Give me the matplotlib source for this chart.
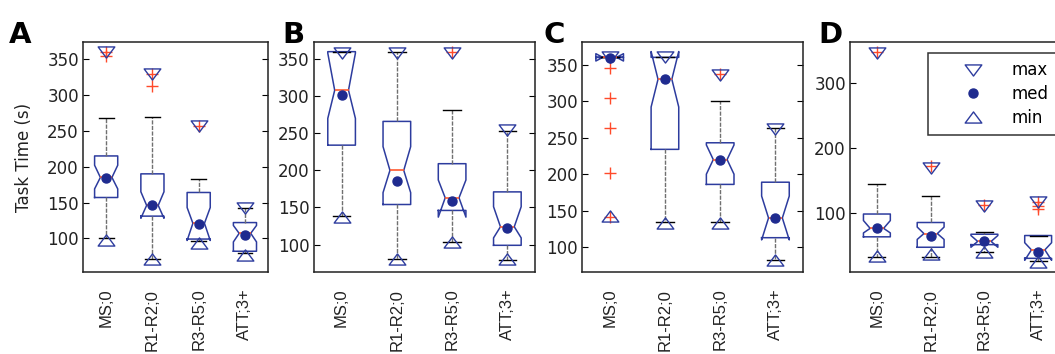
import matplotlib
matplotlib.use("Agg")
import matplotlib.pyplot as plt
from matplotlib.path import Path
from matplotlib.lines import Line2D

plt.rcParams['font.family'] = ['DejaVu Sans']

labels = ['MS;0', 'R1-R2;0', 'R3-R5;0', 'ATT;3+']
pos = [1, 2, 3, 4]

# panel A
a_q1 = [157, 131, 99, 82]
a_med = [185, 146, 121, 107]
a_q3 = [215, 190, 164, 122]
a_cilo = [169, 128, 97, 95]
a_cihi = [202, 165, 143, 118]
a_lo = [100, 71, 96, 79]
a_hi = [268, 269, 183, 143]
a_fliers = [[354, 360], [312, 330], [257], []]
a_max = [360, 329, 257, 142]
a_dot = [184, 146, 120, 104]
a_min = [98, 71, 93, 77]

# panel B
b_q1 = [234, 154, 146, 99]
b_med = [308, 200, 163, 124]
b_q3 = [360, 266, 209, 171]
b_cilo = [270, 170, 137, 109]
b_cihi = [358, 232, 187, 151]
b_lo = [139, 81, 103, 79]
b_hi = [360, 360, 282, 253]
b_fliers = [[], [], [360], []]
b_max = [358, 358, 358, 254]
b_dot = [302, 185, 159, 122]
b_min = [137, 80, 104, 80]

# panel C
c_q1 = [360, 234, 186, 113]
c_med = [360, 330, 220, 140]
c_q3 = [360, 360, 243, 189]
c_cilo = [355, 292, 200, 110]
c_cihi = [365, 368, 240, 170]
c_lo = [360, 134, 134, 82]
c_hi = [360, 360, 300, 263]
c_fliers = [[346, 305, 263, 202, 142], [], [337], []]
c_max = [361, 361, 336, 262]
c_dot = [359, 330, 220, 140]
c_min = [143, 133, 133, 82]

# panel D
d_q1 = [64, 48, 52, 31]
d_med = [77, 69, 57, 44]
d_q3 = [99, 86, 68, 66]
d_cilo = [70, 60, 48, 28]
d_cihi = [89, 79, 66, 55]
d_lo = [33, 33, 40, 27]
d_hi = [145, 126, 71, 66]
d_fliers = [[347], [172], [113], [106, 112, 118]]
d_max = [346, 169, 112, 117]
d_dot = [77, 66, 57, 40]
d_min = [35, 38, 40, 26]

blue = '#2d3c9e'
dotc = '#1f2b8f'
orange = '#ff5a30'

down_tri = Path([(-1.5, 1), (1.5, 1), (0, -1), (-1.5, 1)],
                [Path.MOVETO, Path.LINETO, Path.LINETO, Path.CLOSEPOLY])
up_tri = Path([(-1.5, -1), (1.5, -1), (0, 1), (-1.5, -1)],
              [Path.MOVETO, Path.LINETO, Path.LINETO, Path.CLOSEPOLY])

fig = plt.figure(figsize=(10.55, 3.54), dpi=100)

panels = [
    ('A', [0.0787, 0.2316, 0.1754, 0.6497], (53, 374), [100, 150, 200, 250, 300, 350],
     a_q1, a_med, a_q3, a_cilo, a_cihi, a_lo, a_hi, a_fliers, a_max, a_dot, a_min, 0.0085),
    ('B', [0.2976, 0.2316, 0.2095, 0.6497], (63, 373), [100, 150, 200, 250, 300, 350],
     b_q1, b_med, b_q3, b_cilo, b_cihi, b_lo, b_hi, b_fliers, b_max, b_dot, b_min, 0.268),
    ('C', [0.5517, 0.2316, 0.2095, 0.6497], (66, 381), [100, 150, 200, 250, 300, 350],
     c_q1, c_med, c_q3, c_cilo, c_cihi, c_lo, c_hi, c_fliers, c_max, c_dot, c_min, 0.5147),
    ('D', [0.8057, 0.2316, 0.2038, 0.6497], (10, 363), [100, 200, 300],
     d_q1, d_med, d_q3, d_cilo, d_cihi, d_lo, d_hi, d_fliers, d_max, d_dot, d_min, 0.7753),
]

for (letter, rect, ylim, yt, q1, med, q3, cilo, cihi, lo, hi, fl,
     tmax, tdot, tmin, lx) in panels:
    ax = fig.add_axes(rect)
    stats = []
    for i in range(4):
        stats.append(dict(q1=q1[i], med=med[i], q3=q3[i], cilo=cilo[i], cihi=cihi[i],
                          whislo=lo[i], whishi=hi[i], fliers=fl[i]))
    ax.bxp(stats, positions=pos, widths=0.5, shownotches=True, capwidths=0.32,
           boxprops=dict(color=blue, lw=1.1),
           whiskerprops=dict(color='#707070', ls=(0, (3, 1)), lw=1),
           capprops=dict(color='black', lw=1),
           medianprops=dict(color=orange, lw=1.2),
           flierprops=dict(marker='+', markeredgecolor='#ff4a2a', markersize=9,
                           markeredgewidth=1, ls='none'))
    ax.plot(pos, tmax, ls='none', marker=down_tri, ms=12, mfc='none', mec=blue, mew=1, zorder=5)
    ax.plot(pos, tdot, ls='none', marker='o', ms=6.5, mfc=dotc, mec=dotc, zorder=5)
    ax.plot(pos, tmin, ls='none', marker=up_tri, ms=12, mfc='none', mec=blue, mew=1, zorder=5)

    ax.set_xlim(0.5, 4.5)
    ax.set_ylim(*ylim)
    ax.set_yticks(yt)
    ax.set_xticks(pos)
    ax.set_xticklabels(labels, rotation=90, fontsize=12, family='Liberation Sans', color='#222222')
    ax.tick_params(axis='x', length=0, pad=12)
    ax.tick_params(axis='y', direction='in', length=4, right=True, labelsize=12,
                   pad=3, labelcolor='#222222')
    for s in ax.spines.values():
        s.set_linewidth(1.1)
        s.set_color('#222222')
    fig.text(lx, 0.8785, letter, fontsize=21, fontweight='bold', va='baseline', ha='left')

    if letter == 'A':
        fig.text(0.0227, 0.5565, 'Task Time (s)', rotation=90, fontsize=12,
                 va='center', ha='center', color='#222222')
    if letter == 'D':
        handles = [
            Line2D([], [], ls='none', marker=down_tri, ms=12, mfc='none', mec=blue, mew=1),
            Line2D([], [], ls='none', marker='o', ms=6.5, mfc=dotc, mec=dotc),
            Line2D([], [], ls='none', marker=up_tri, ms=12, mfc='none', mec=blue, mew=1),
        ]
        leg = ax.legend(handles, ['max', 'med', 'min'], loc='upper left',
                        bbox_to_anchor=(0.363, 0.952), fontsize=12, frameon=True,
                        fancybox=False, borderpad=0.5, handlelength=4.4,
                        handletextpad=0.1, labelspacing=0.35, borderaxespad=0)
        leg.get_frame().set_edgecolor('black')
        leg.get_frame().set_linewidth(1.1)

fig.savefig('out.png', dpi=100)
